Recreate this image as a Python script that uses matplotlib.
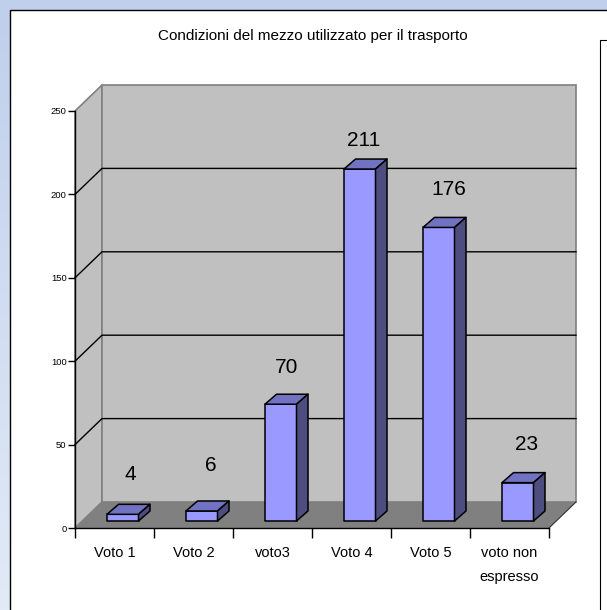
import numpy as np
import matplotlib
matplotlib.use('Agg')
import matplotlib.pyplot as plt
from matplotlib.patches import Polygon, Rectangle

plt.rcParams['font.family'] = ['Liberation Sans', 'DejaVu Sans']

categories = ['Voto 1', 'Voto 2', 'voto3', 'Voto 4', 'Voto 5', 'voto non\nespresso']
values = [4, 6, 70, 211, 176, 23]
y_ticks = [0, 50, 100, 150, 200, 250]
title = 'Condizioni del mezzo utilizzato per il trasporto'

W, H = 607, 610
# plot box in pixels (front plane)
LEFT, RIGHT, TOP, BOTTOM = 75, 549, 111, 528

# oblique offsets, in data units
WALL_DX = 27 / 79
WALL_DY = 26 / (417 / 250)
BAR_START = 32 / 79
BAR_W = 31.5 / 79
BAR_DX = 11.5 / 79
BAR_DY = 10 / (417 / 250)
BAR_BASE = 4.2
# how far the value labels sit above the bar tops, in data units
label_lift = [24, 27, 22, 17, 23, 23]
label_shift = [0.02, 0.04, 0.0, -0.02, 0.05, 0.04]

WALL = '#c0c0c0'
FLOOR = '#808080'
FRONT = '#9999ff'
TOPC = '#7272c2'
SIDE = '#4d4d80'

fig = plt.figure(figsize=(W / 100, H / 100), dpi=100)

# page background and panels, in pixels
bg = fig.add_axes([0, 0, 1, 1])
bg.set_xlim(0, W)
bg.set_ylim(H, 0)
bg.axis('off')
grad = np.linspace(0, 1, 256).reshape(-1, 1)
top_c = np.array([0xbf, 0xcf, 0xec]) / 255
bot_c = np.array([0xe2, 0xea, 0xf7]) / 255
img = top_c + (bot_c - top_c) * grad[..., None]
bg.imshow(img, extent=[0, W, H, 0], aspect='auto')
bg.add_patch(Rectangle((9.5, 9.5), W + 20, H + 20, fc='white', ec='black', lw=1))
bg.add_patch(Rectangle((599.5, 39.5), 40, H, fc='white', ec='black', lw=0.8))
bg.set_xlim(0, W)
bg.set_ylim(H, 0)

ax = fig.add_axes([LEFT / W, 1 - BOTTOM / H, (RIGHT - LEFT) / W, (BOTTOM - TOP) / H])
ax.set_xlim(0, len(categories))
ax.set_ylim(0, y_ticks[-1])
ax.patch.set_visible(False)
n = len(categories)
ymax = y_ticks[-1]

# walls and floor
ax.add_patch(Polygon([(0, 0), (WALL_DX, WALL_DY), (WALL_DX, ymax + WALL_DY), (0, ymax)],
                     fc=WALL, ec=FLOOR, lw=1.2, clip_on=False, zorder=1))
ax.add_patch(Polygon([(WALL_DX, WALL_DY), (n + WALL_DX, WALL_DY), (n + WALL_DX, ymax + WALL_DY),
                      (WALL_DX, ymax + WALL_DY)],
                     fc=WALL, ec=FLOOR, lw=1.2, clip_on=False, zorder=1))
ax.add_patch(Polygon([(0, 0), (n, 0), (n + WALL_DX, WALL_DY), (WALL_DX, WALL_DY)],
                     fc=FLOOR, ec='none', clip_on=False, zorder=1.5))
ax.plot([n, n + WALL_DX], [0, WALL_DY], color='#303030', lw=0.8, clip_on=False, zorder=1.6)

# gridlines run along the side wall and back wall
for t in y_ticks[1:-1]:
    ax.plot([0, WALL_DX, n + WALL_DX], [t, t + WALL_DY, t + WALL_DY],
            color='black', lw=1, clip_on=False, zorder=2)

# bars
for i, (v, lab) in enumerate(zip(values, label_lift)):
    x0 = i + BAR_START
    x1 = x0 + BAR_W
    y0 = BAR_BASE
    y1 = y0 + v
    ax.add_patch(Polygon([(x0, y0), (x1, y0), (x1, y1), (x0, y1)],
                         fc=FRONT, ec='black', lw=1.1, clip_on=False, zorder=5, joinstyle='round'))
    ax.add_patch(Polygon([(x0, y1), (x1, y1), (x1 + BAR_DX, y1 + BAR_DY), (x0 + BAR_DX, y1 + BAR_DY)],
                         fc=TOPC, ec='black', lw=1.1, clip_on=False, zorder=5, joinstyle='round'))
    ax.add_patch(Polygon([(x1, y0), (x1 + BAR_DX, y0 + BAR_DY), (x1 + BAR_DX, y1 + BAR_DY), (x1, y1)],
                         fc=SIDE, ec='black', lw=1.1, clip_on=False, zorder=5, joinstyle='round'))
    ax.text(x0 + BAR_W / 2 + BAR_DX / 2 + label_shift[i], y1 + lab, str(v), ha='center', va='center',
            fontsize=15, color='black', zorder=6, clip_on=False)

# axes
for s in ['top', 'right']:
    ax.spines[s].set_visible(False)
for s in ['left', 'bottom']:
    ax.spines[s].set_linewidth(1)
    ax.spines[s].set_zorder(4)
ax.set_yticks(y_ticks)
ax.set_yticklabels([str(t) for t in y_ticks], fontsize=6.8)
ax.tick_params(axis='y', length=5, width=1, pad=1)
ax.set_xticks(np.arange(n + 1))
ax.set_xticklabels([])
ax.set_xticks(np.arange(n) + 0.5, minor=True)
ax.set_xticklabels(categories, minor=True, fontsize=10.5, linespacing=1.9)
ax.tick_params(axis='x', which='major', length=7, width=1)
ax.tick_params(axis='x', which='minor', length=0, pad=13)

fig.text(313 / W, 1 - 36 / H, title, ha='center', va='center', fontsize=11)

fig.savefig('out.png', dpi=100)
